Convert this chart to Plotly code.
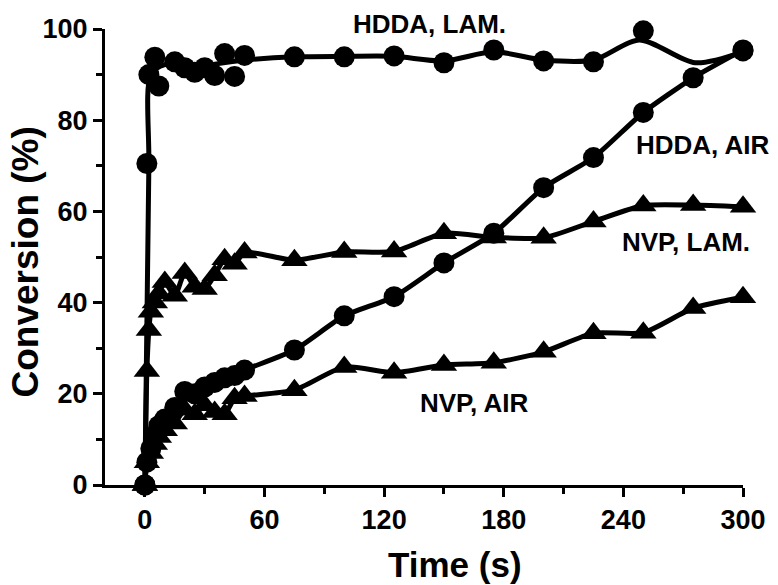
import plotly.graph_objects as go

# ---- data ----
hdda_lam_t = [0, 1, 2, 5, 7, 15, 20, 25, 30, 35, 40, 45, 50, 75, 100, 125, 150, 175, 200, 225, 250, 300]
hdda_lam_y = [0, 70.5, 90, 93.8, 87.5, 92.8, 91.5, 90.5, 91.5, 89.8, 94.6, 89.6, 94.2, 93.9, 93.9, 94.1, 92.6, 95.4, 93.0, 92.8, 99.6, 95.2]
# smoothed curve drawn through the HDDA, LAM. points
hdda_lam_curve_t = [0, 2, 3, 10, 25, 50, 75, 100, 125, 150, 175, 200, 225, 248, 276, 300]
hdda_lam_curve_y = [0, 70, 90, 92.2, 91.8, 93.2, 93.9, 94.0, 94.0, 93.0, 95.0, 93.2, 93.2, 97.6, 92.6, 95.0]

nvp_lam_t = [0, 1, 2, 3, 5, 7, 10, 15, 20, 25, 30, 35, 40, 45, 50, 75, 100, 125, 150, 175, 200, 225, 250, 275, 300]
nvp_lam_y = [0, 25, 34, 38, 40, 42, 44.5, 41.5, 46.5, 43.5, 43, 46, 49.5, 48.5, 51, 49.3, 51.1, 51.2, 55.2, 54.3, 54.2, 57.8, 61.3, 61.4, 61.0]

hdda_air_t = [0, 1, 3, 5, 7, 10, 15, 20, 25, 30, 35, 40, 45, 50, 75, 100, 125, 150, 175, 200, 225, 250, 275, 300]
hdda_air_y = [0, 5, 8, 11, 13, 14.5, 17, 20.5, 20, 21.5, 22.5, 23.5, 24, 25.2, 29.6, 37.1, 41.3, 48.7, 55.2, 65.2, 71.8, 81.7, 89.3, 95.4]

nvp_air_t = [0, 1, 3, 5, 7, 10, 15, 20, 25, 30, 35, 40, 45, 50, 75, 100, 125, 150, 175, 200, 225, 250, 275, 300]
nvp_air_y = [0, 5, 7, 9, 10.5, 12, 13.5, 16.5, 15.5, 17.5, 16, 15.5, 19, 19.5, 20.8, 25.9, 24.6, 26.3, 26.8, 29.2, 33.3, 33.4, 38.8, 41.2]

labels = ["HDDA, LAM.", "HDDA, AIR", "NVP, LAM.", "NVP, AIR"]
label_x = [143, 280, 271.5, 165.5]
label_y = [101, 74.6, 53.3, 18]

x_ticks = [0, 60, 120, 180, 240, 300]
y_ticks = [0, 20, 40, 60, 80, 100]

FONT = "Liberation Sans, Arial, Helvetica, sans-serif"
LW = 5

fig = go.Figure()

# HDDA, LAM.: smoothed curve + markers
fig.add_trace(go.Scatter(
    x=hdda_lam_curve_t, y=hdda_lam_curve_y, mode="lines",
    line=dict(color="black", width=LW, shape="spline", smoothing=0.8),
    cliponaxis=False, showlegend=False, hoverinfo="skip",
))
fig.add_trace(go.Scatter(
    x=hdda_lam_t, y=hdda_lam_y, mode="markers",
    marker=dict(symbol="circle", size=21, color="black", line=dict(width=0)),
    cliponaxis=False, showlegend=False,
))

series = [
    (nvp_lam_t, nvp_lam_y, "triangle-up"),
    (hdda_air_t, hdda_air_y, "circle"),
    (nvp_air_t, nvp_air_y, "triangle-up"),
]
for t, y, sym in series:
    fig.add_trace(go.Scatter(
        x=t, y=y, mode="lines+markers",
        line=dict(color="black", width=LW, shape="spline", smoothing=0.6),
        marker=dict(symbol=sym, size=21 if sym == "circle" else 23, color="black",
                    line=dict(width=0)),
        cliponaxis=False, showlegend=False,
    ))

# series labels (y converted to paper fraction so labels above 100 are still shown)
Y_MIN, Y_MAX = 0, 100
for txt, lx, ly in zip(labels, label_x, label_y):
    fig.add_annotation(x=lx, y=(ly - Y_MIN) / (Y_MAX - Y_MIN), xref="x", yref="paper",
                       text=txt, showarrow=False,
                       font=dict(family=FONT, size=26, color="black", weight="bold"),
                       xanchor="center", yanchor="middle")

# axis titles placed as annotations
fig.add_annotation(xref="paper", yref="paper", x=-0.1246, y=0.489, text="Conversion (%)",
                   textangle=-90, showarrow=False, xanchor="center", yanchor="middle",
                   font=dict(family=FONT, size=37, color="black", weight="bold"))
fig.add_annotation(xref="paper", yref="paper", x=0.548, y=-0.175, text="Time (s)",
                   showarrow=False, xanchor="center", yanchor="middle",
                   font=dict(family=FONT, size=35, color="black", weight="bold"))

axis_common = dict(
    showgrid=False, zeroline=False, showline=True, linecolor="black", linewidth=3,
    ticks="outside", ticklen=9, tickwidth=3, tickcolor="black",
    tickfont=dict(family=FONT, size=27, color="black", weight="bold"),
)

fig.update_xaxes(
    range=[-20, 300], tickvals=x_ticks, ticktext=[str(v) for v in x_ticks],
    minor=dict(tickvals=[30, 90, 150, 210, 270], ticklen=6, tickwidth=3,
               tickcolor="black", ticks="outside"),
    **axis_common,
)
fig.update_yaxes(
    range=[Y_MIN, Y_MAX], tickvals=y_ticks, ticktext=[str(v) for v in y_ticks],
    minor=dict(tickvals=[10, 30, 50, 70, 90], ticklen=6, tickwidth=3,
               tickcolor="black", ticks="outside"),
    ticklabelstandoff=0,
    **axis_common,
)

fig.update_layout(
    width=778, height=585,
    margin=dict(l=105, r=31, t=29, b=100),
    plot_bgcolor="white", paper_bgcolor="white",
)

fig.write_html("out.html")
